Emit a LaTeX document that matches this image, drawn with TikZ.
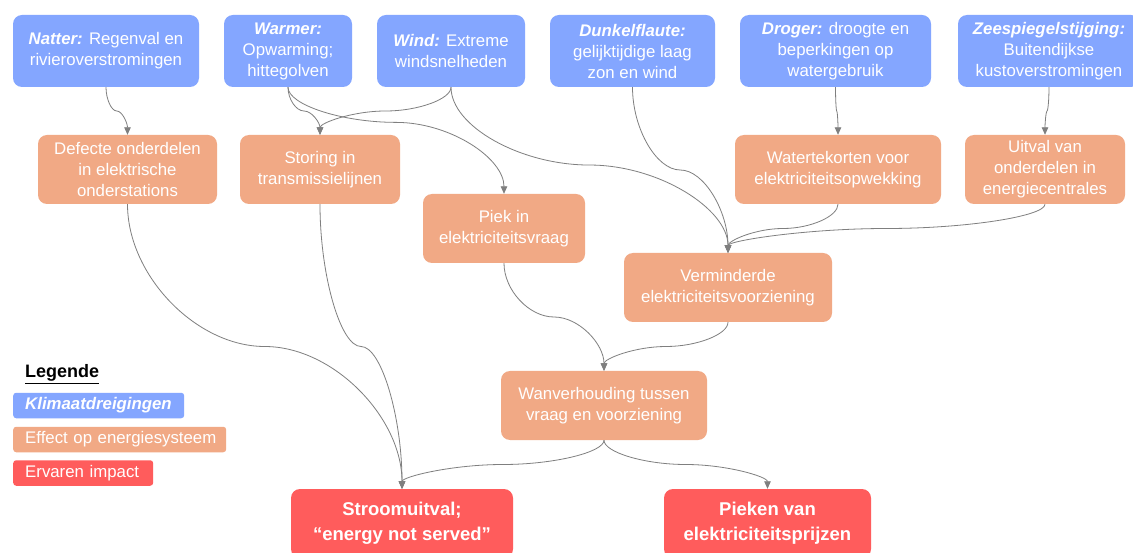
\documentclass[tikz,border=0pt]{standalone}
\usepackage{fontspec}
\setmainfont{Liberation Sans}
\usetikzlibrary{arrows.meta,calc}
\definecolor{threat}{RGB}{132,166,255}
\definecolor{effect}{RGB}{241,169,133}
\definecolor{impact}{RGB}{255,92,92}
\definecolor{connc}{RGB}{127,127,127}
\newcommand\bi[1]{\textbf{\textit{#1}}}
% PowerPoint-like curved connector (vertical - horizontal - vertical)
\newcommand\cconn[3][0.5]{%
  \draw[conn] let \p1=(#2.south), \p2=(#3.north) in
    (\p1) .. controls (\x1,{\y1+0.5*#1*(\y2-\y1)}) and ({\x1+0.25*(\x2-\x1)},{\y1+#1*(\y2-\y1)})
    .. ({0.5*(\x1+\x2)},{\y1+#1*(\y2-\y1)})
    .. controls ({\x1+0.75*(\x2-\x1)},{\y1+#1*(\y2-\y1)}) and (\x2,{\y2-0.5*(1-#1)*(\y2-\y1)})
    .. (\p2);}
\begin{document}
\begin{tikzpicture}[x=1pt,y=-1pt,
  basebox/.style={rectangle, rounded corners=9pt, text=white, align=center, inner sep=0pt,
    font=\fontsize{16.8}{21}\selectfont},
  threatbox/.style={basebox, fill=threat, minimum height=72pt},
  effectbox/.style={basebox, fill=effect, minimum height=69pt},
  impactbox/.style={basebox, fill=impact, minimum height=69pt,
    font=\bfseries\fontsize{18.5}{25}\selectfont},
  legbox/.style={rectangle, rounded corners=3pt, text=white, anchor=west, align=left,
    inner xsep=12pt, inner ysep=0pt, minimum height=25.5pt,
    font=\fontsize{16.8}{21}\selectfont},
  conn/.style={draw=connc, line width=0.8pt, -{Triangle[length=7.5pt,width=6.5pt]}}
]
\useasboundingbox (0,0) rectangle (1133,553);
\clip (0,0) rectangle (1133,553);
\fill[white] (0,0) rectangle (1133,553);

% climate threats
\node[threatbox, minimum width=186pt] (natter) at (106,51) {\bi{Natter:} Regenval en\\rivieroverstromingen};
\node[threatbox, minimum width=128pt] (warmer) at (288,51) {\bi{Warmer:}\\Opwarming;\\hittegolven};
\node[threatbox, minimum width=148pt] (wind) at (451,51) {\bi{Wind:} Extreme\\windsnelheden};
\node[threatbox, minimum width=165pt] (dunkel) at (632.5,51) {\bi{Dunkelflaute:}\\gelijktijdige laag\\zon en wind};
\node[threatbox, minimum width=191pt] (droger) at (835.5,51) {\bi{Droger:} droogte en\\beperkingen op\\watergebruik};
\node[threatbox, minimum width=182pt] (zee) at (1049,51) {\bi{Zeespiegelstijging:}\\Buitendijkse\\kustoverstromingen};

% effects
\node[effectbox, minimum width=179pt] (defecte) at (127.5,169.5) {Defecte onderdelen\\in elektrische\\onderstations};
\node[effectbox, minimum width=160pt] (storing) at (320,169.5) {Storing in\\transmissielijnen};
\node[effectbox, minimum width=162pt] (piek) at (504,228.5) {Piek in\\elektriciteitsvraag};
\node[effectbox, minimum width=206pt] (water) at (838,169.5) {Watertekorten voor\\elektriciteitsopwekking};
\node[effectbox, minimum width=160pt] (uitval) at (1045,169.5) {Uitval van\\onderdelen in\\energiecentrales};
\node[effectbox, minimum width=208pt] (verm) at (728,287.5) {Verminderde\\elektriciteitsvoorziening};
\node[effectbox, minimum width=206pt] (wanv) at (604,405.5) {Wanverhouding tussen\\vraag en voorziening};

% impacts
\node[impactbox, minimum width=222pt] (stroom) at (402,523.5) {Stroomuitval;\\“energy not served”};
\node[impactbox, minimum width=207pt] (pieken) at (767.5,523.5) {Pieken van\\elektriciteitsprijzen};

% legend
\node[anchor=west, inner sep=0pt, font=\bfseries\fontsize{18}{22}\selectfont] (legende) at (25,374) {\underline{Legende}};
\node[legbox, fill=threat, text width=147pt] (legthreat) at (13,405.5) {\mbox{\bi{Klimaatdreigingen}}};
\node[legbox, fill=effect, text width=189pt] (legeffect) at (13,439.5) {\mbox{Effect op energiesysteem}};
\node[legbox, fill=impact, text width=116pt] (legimpact) at (13,473) {\mbox{Ervaren impact}};

% connectors
\cconn{natter}{defecte}
\cconn{warmer}{storing}
\cconn{wind}{storing}
\cconn[0.33]{warmer}{piek}
\cconn[0.47]{wind}{verm}
\cconn{dunkel}{verm}
\cconn{droger}{water}
\cconn{zee}{uitval}
\cconn{water}{verm}
\cconn{uitval}{verm}
\cconn{piek}{wanv}
\cconn{verm}{wanv}
\cconn{defecte}{stroom}
\cconn{storing}{stroom}
\cconn{wanv}{stroom}
\cconn{wanv}{pieken}
\end{tikzpicture}
\end{document}
